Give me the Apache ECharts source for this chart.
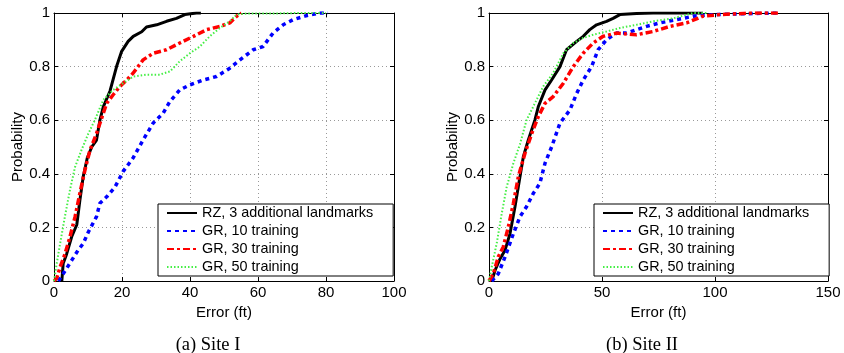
<!DOCTYPE html>
<html><head><meta charset="utf-8">
<script src="https://cdn.jsdelivr.net/npm/echarts@6/dist/echarts.min.js"></script>
<style>html,body{margin:0;padding:0;background:#fff}#c{width:844px;height:353px}</style>
</head><body><div id="c"></div>
<script>
const seriesNames = ["RZ, 3 additional landmarks", "GR, 10 training", "GR, 30 training", "GR, 50 training"];
const xTicksA = [0, 20, 40, 60, 80, 100];
const xTicksB = [0, 50, 100, 150];
const yTicks = [0, 0.2, 0.4, 0.6, 0.8, 1];

// Site I
const siteI_RZ = [[2.3,0],[2.7,0.065],[3.7,0.10],[5.2,0.165],[6.7,0.21],[7.6,0.30],[8.6,0.39],[9.8,0.46],[11.1,0.50],[12.5,0.526],[13.5,0.60],[14.5,0.65],[16.5,0.71],[18.4,0.80],[19.9,0.857],[21.8,0.894],[23.3,0.913],[25.8,0.93],[27.2,0.948],[30.2,0.956],[33.1,0.969],[36,0.98],[38.5,0.994],[41.9,1.0],[43.2,1.0]];
const siteI_GR10 = [[1.3,0],[2.7,0.027],[5.2,0.077],[7.1,0.115],[8.6,0.14],[10.1,0.183],[12.5,0.24],[13.5,0.29],[15.5,0.314],[17.9,0.35],[20.4,0.41],[23.3,0.46],[26.2,0.526],[29.2,0.59],[32.1,0.626],[34.1,0.67],[37,0.713],[40,0.732],[43.9,0.75],[47.8,0.763],[51.7,0.794],[54.7,0.825],[58.6,0.863],[61.5,0.875],[64.4,0.925],[67.4,0.956],[70.3,0.975],[74.2,0.99],[78.2,1.0],[80.6,1.0]];
const siteI_GR30 = [[0,0],[0.8,0.01],[1.8,0.052],[3.2,0.10],[4.7,0.165],[6.2,0.24],[7.6,0.327],[9.1,0.414],[10.6,0.489],[12.5,0.55],[14,0.607],[15.5,0.663],[17.4,0.695],[19.4,0.726],[21.4,0.75],[23.3,0.776],[26.2,0.825],[29.2,0.85],[33.1,0.863],[37,0.888],[41,0.913],[44.9,0.938],[48.8,0.95],[51.7,0.963],[53.7,0.988],[55.1,1.0]];
const siteI_GR50 = [[0,0],[0.8,0.065],[1.8,0.14],[3.2,0.24],[4.7,0.34],[6.2,0.426],[8.1,0.489],[10.1,0.55],[12,0.60],[14.5,0.676],[17.4,0.713],[19.4,0.73],[23.3,0.763],[27.2,0.77],[31.1,0.77],[34.1,0.782],[37,0.82],[40,0.85],[42.9,0.875],[45.8,0.913],[48.8,0.944],[51.7,0.969],[53.7,0.994],[56.6,0.998],[64.4,0.998],[72.3,1.0],[80,1.0]];

// Site II
const siteII_RZ = [[1.2,0],[2.7,0.04],[4.9,0.083],[7.1,0.115],[9.3,0.177],[11.5,0.277],[13.7,0.389],[15.2,0.464],[17.4,0.526],[20.3,0.60],[21.8,0.65],[24.8,0.713],[27.7,0.75],[31.4,0.80],[34.3,0.863],[38.8,0.894],[41.7,0.913],[44.6,0.938],[47.6,0.956],[52,0.969],[54.9,0.98],[57.9,0.994],[65.3,0.998],[72.6,1.0],[94.7,1.0]];
const siteII_GR10 = [[1.2,0],[4.1,0.027],[7.1,0.09],[10.8,0.177],[13.7,0.24],[16.6,0.277],[19.6,0.327],[22.5,0.364],[24.8,0.44],[27.7,0.50],[31.4,0.589],[35.8,0.638],[38.8,0.70],[41.7,0.75],[45.4,0.80],[48.3,0.863],[52,0.90],[56.4,0.925],[60.9,0.925],[65.3,0.938],[69.7,0.95],[75.6,0.963],[82.9,0.975],[90.3,0.988],[99.2,0.994],[116.8,0.998],[127.9,1.0]];
const siteII_GR30 = [[0,0],[1.9,0.027],[4.1,0.09],[6.3,0.127],[8.5,0.20],[10.8,0.29],[13,0.39],[15.9,0.476],[18.9,0.55],[21.8,0.613],[24.8,0.663],[28.4,0.688],[32.9,0.738],[37.3,0.80],[41.7,0.85],[46.1,0.888],[50.5,0.913],[56.4,0.925],[65.3,0.919],[72.6,0.931],[80,0.95],[87.4,0.963],[94.7,0.988],[102.1,0.994],[116.8,1.0],[127.9,1.0]];
const siteII_GR50 = [[0,0],[1.2,0.052],[3.4,0.14],[5.6,0.25],[7.8,0.35],[10.8,0.44],[13.7,0.51],[16.6,0.60],[20.3,0.663],[24,0.726],[28.4,0.776],[32.9,0.85],[37.3,0.888],[41.7,0.907],[46.1,0.919],[52,0.931],[57.9,0.944],[65.3,0.956],[72.6,0.969],[81.5,0.98],[90.3,1.0],[96.2,1.0]];

const captions = ["(a) Site I", "(b) Site II"];
const xName = "Error (ft)";
const yName = "Probability";

const styles = [
  {color:'#000000', width:3, type:'solid'},
  {color:'#0000ff', width:3.5, type:[4,4]},
  {color:'#ff0000', width:3.5, type:[7,3,3,3]},
  {color:'#44ee44', width:2, type:[1.5,2]}
];

const chart = echarts.init(document.getElementById('c'));
const font = 'Liberation Sans, Arial, sans-serif';
const gridLine = {show:true, lineStyle:{color:'#999', type:[1,3], width:1}};
function xAx(gi, max, interval, pos, labels){
  return {type:'value', gridIndex:gi, min:0, max:max, interval:interval, position:pos,
    name: labels ? xName : '', nameLocation:'middle', nameGap:17,
    nameTextStyle:{fontFamily:font, fontSize:15, color:'#000'},
    axisLine:{show:true, onZero:false, lineStyle:{color:'#000', width:1}},
    axisTick:{show:true, inside:true, length:4, lineStyle:{color:'#000'}},
    axisLabel:{show:labels, fontFamily:font, fontSize:15, color:'#000', margin:4},
    splitLine: labels ? gridLine : {show:false}};
}
function yAx(gi, pos, labels){
  return {type:'value', gridIndex:gi, min:0, max:1, interval:0.2, position:pos,
    name: labels ? yName : '', nameLocation:'middle', nameGap:29, nameRotate:90,
    nameTextStyle:{fontFamily:font, fontSize:15, color:'#000'},
    axisLine:{show:true, onZero:false, lineStyle:{color:'#000', width:1}},
    axisTick:{show:true, inside:true, length:4, lineStyle:{color:'#000'}},
    axisLabel:{show:labels, fontFamily:font, fontSize:15, color:'#000', margin:4,
      formatter: v => String(yTicks.find(t => Math.abs(t - v) < 1e-9) ?? v)},
    splitLine: labels ? gridLine : {show:false}};
}
const data = [[siteI_RZ, siteI_GR10, siteI_GR30, siteI_GR50],[siteII_RZ, siteII_GR10, siteII_GR30, siteII_GR50]];
const series = [];
for (let g = 0; g < 2; g++) {
  for (let i = 0; i < 4; i++) {
    series.push({type:'line', name:seriesNames[i], xAxisIndex:g*2, yAxisIndex:g*2,
      data:data[g][i], showSymbol:false, symbol:'none', silent:true, animation:false,
      itemStyle:{color:styles[i].color},
      lineStyle:{color:styles[i].color, width:styles[i].width, type:styles[i].type}});
  }
}
function legend(left){
  return {left:left, top:204, orient:'vertical', itemWidth:30, itemHeight:14, itemGap:4,
    padding:[2,20,2,8], borderColor:'#000', borderWidth:1, backgroundColor:'#fff', borderRadius:0,
    selectedMode:false, itemStyle:{opacity:0},
    textStyle:{fontFamily:font, fontSize:14.4, color:'#000'},
    data: seriesNames};
}
chart.setOption({
  animation:false,
  grid:[{left:54, top:13, width:340, height:268, show:false},
        {left:489, top:13, width:339, height:268, show:false}],
  xAxis:[xAx(0,100,20,'bottom',true), xAx(0,100,20,'top',false), xAx(1,150,50,'bottom',true), xAx(1,150,50,'top',false)],
  yAxis:[yAx(0,'left',true), yAx(0,'right',false), yAx(1,'left',true), yAx(1,'right',false)],
  legend:[legend(158), legend(594)],
  series: series,
  graphic:[
    {type:'text', x:208, y:345, style:{text:captions[0], font:'18.5px "Liberation Serif", "Times New Roman", serif', fill:'#000', textAlign:'center', textVerticalAlign:'middle'}},
    {type:'text', x:642, y:345, style:{text:captions[1], font:'18.5px "Liberation Serif", "Times New Roman", serif', fill:'#000', textAlign:'center', textVerticalAlign:'middle'}}
  ]
});
</script></body></html>
